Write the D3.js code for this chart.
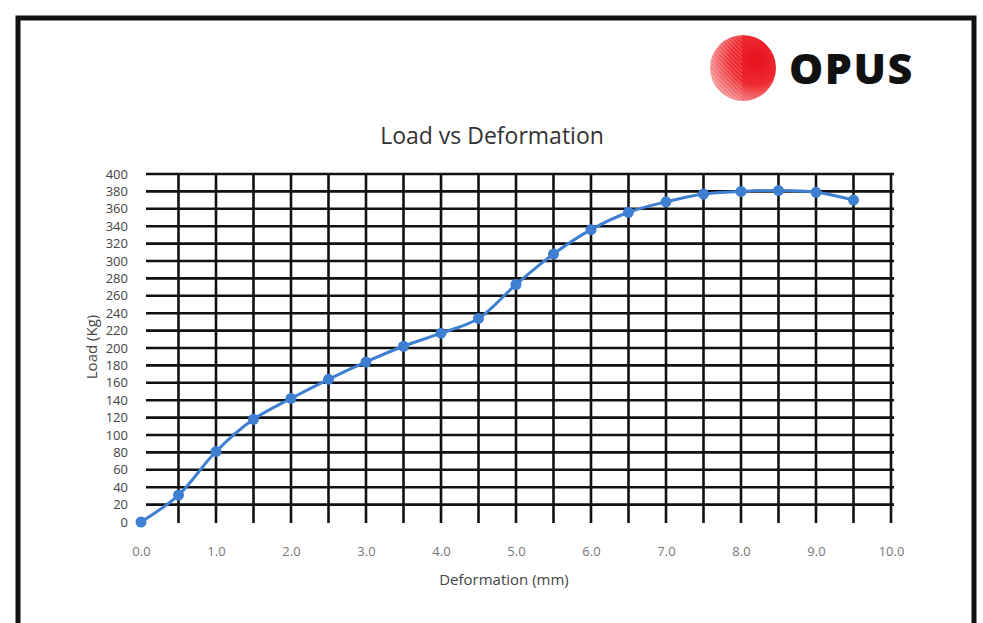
<!DOCTYPE html>
<html>
<head>
<meta charset="utf-8">
<script src="https://cdn.jsdelivr.net/npm/d3@7"></script>
<style>
  body { margin: 0; background: #fff; }
  text { font-family: "Open Sans", "Noto Sans", sans-serif; }
</style>
</head>
<body>
<svg id="chart" width="983" height="623"></svg>
<script>
// dados
const deformation = [0, 0.5, 1.0, 1.5, 2.0, 2.5, 3.0, 3.5, 4.0, 4.5, 5.0, 5.5, 6.0, 6.5, 7.0, 7.5, 8.0, 8.5, 9.0, 9.5];
const load = [0, 31, 81, 118, 142, 164, 184, 202, 217, 234, 273, 308, 336, 356, 368, 377, 380, 381, 379, 370];
const xTicks = [0, 1, 2, 3, 4, 5, 6, 7, 8, 9, 10];
const yTicks = d3.range(0, 401, 20);
const xGrid = d3.range(0.5, 10.01, 0.5);

const svg = d3.select("#chart");

// moldura da página
svg.append("rect")
  .attr("x", 18).attr("y", 18)
  .attr("width", 956).attr("height", 640)
  .attr("fill", "none")
  .attr("stroke", "#111")
  .attr("stroke-width", 5);

// logo
const defs = svg.append("defs");
const grad = defs.append("radialGradient").attr("id", "ball")
  .attr("cx", "68%").attr("cy", "38%").attr("r", "75%");
grad.append("stop").attr("offset", "0%").attr("stop-color", "#e8101c");
grad.append("stop").attr("offset", "50%").attr("stop-color", "#ed2a30");
grad.append("stop").attr("offset", "100%").attr("stop-color", "#f7a5a5");
const pat = defs.append("pattern").attr("id", "hatch")
  .attr("width", 3).attr("height", 3)
  .attr("patternUnits", "userSpaceOnUse")
  .attr("patternTransform", "rotate(-45)");
pat.append("line").attr("x1", 0).attr("y1", 0).attr("x2", 0).attr("y2", 3)
  .attr("stroke", "#fff").attr("stroke-width", 0.9).attr("opacity", 0.55);
defs.append("clipPath").attr("id", "leftHalf")
  .append("rect").attr("x", 700).attr("y", 30).attr("width", 42).attr("height", 80);

svg.append("circle").attr("cx", 743).attr("cy", 68).attr("r", 33).attr("fill", "url(#ball)");
svg.append("circle").attr("cx", 743).attr("cy", 68).attr("r", 33)
  .attr("fill", "url(#hatch)").attr("clip-path", "url(#leftHalf)");
svg.append("text")
  .attr("x", 789).attr("y", 84)
  .attr("font-size", 43).attr("font-weight", 800)
  .attr("letter-spacing", 1.5)
  .attr("font-family", "'Open Sans', sans-serif")
  .attr("fill", "#111")
  .text("OPUS");

// escalas
const x = d3.scaleLinear().domain([0, 10]).range([141, 891]);
const y = d3.scaleLinear().domain([0, 400]).range([522, 174]);

// grade horizontal
svg.append("g")
  .attr("stroke", "#111").attr("stroke-width", 2.6)
  .selectAll("line")
  .data(yTicks.filter(d => d > 0))
  .enter().append("line")
  .attr("x1", x(0) + 5).attr("x2", x(10) + 3)
  .attr("y1", d => y(d)).attr("y2", d => y(d));

// grade vertical
svg.append("g")
  .attr("stroke", "#111").attr("stroke-width", 2.6)
  .selectAll("line")
  .data(xGrid)
  .enter().append("line")
  .attr("x1", d => x(d)).attr("x2", d => x(d))
  .attr("y1", y(400)).attr("y2", y(0) + 1);

// eixo y
const yAxis = svg.append("g")
  .attr("transform", `translate(${x(0) - 13},0)`)
  .call(d3.axisLeft(y).tickValues(yTicks).tickSize(0).tickPadding(0));
yAxis.select(".domain").remove();
yAxis.selectAll("text")
  .attr("font-size", 13).attr("fill", "#444")
  .attr("font-family", "'Open Sans', sans-serif");

// eixo x
const xAxis = svg.append("g")
  .attr("transform", `translate(0,${y(0) + 25})`)
  .call(d3.axisBottom(x).tickValues(xTicks).tickFormat(d3.format(".1f")).tickSize(0).tickPadding(0));
xAxis.select(".domain").remove();
xAxis.selectAll("text")
  .attr("font-size", 13).attr("fill", "#777")
  .attr("font-family", "'Open Sans', sans-serif");

// títulos
svg.append("text")
  .attr("x", 492).attr("y", 144)
  .attr("text-anchor", "middle")
  .attr("font-size", 23).attr("fill", "#333")
  .text("Load vs Deformation");

svg.append("text")
  .attr("x", 504).attr("y", 585)
  .attr("text-anchor", "middle")
  .attr("font-size", 15).attr("fill", "#444")
  .text("Deformation (mm)");

svg.append("text")
  .attr("transform", `translate(97,347) rotate(-90)`)
  .attr("text-anchor", "middle")
  .attr("font-size", 15).attr("fill", "#444")
  .text("Load (Kg)");

// série
const pts = deformation.map((d, i) => [d, load[i]]);
const line = d3.line()
  .x(d => x(d[0]))
  .y(d => y(d[1]))
  .curve(d3.curveCatmullRom.alpha(0.5));

svg.append("path")
  .datum(pts)
  .attr("fill", "none")
  .attr("stroke", "#3f7fd1")
  .attr("stroke-width", 3)
  .attr("d", line);

svg.append("g")
  .selectAll("circle")
  .data(pts)
  .enter().append("circle")
  .attr("cx", d => x(d[0]))
  .attr("cy", d => y(d[1]))
  .attr("r", 5.5)
  .attr("fill", "#3f7fd1");
</script>
</body>
</html>
